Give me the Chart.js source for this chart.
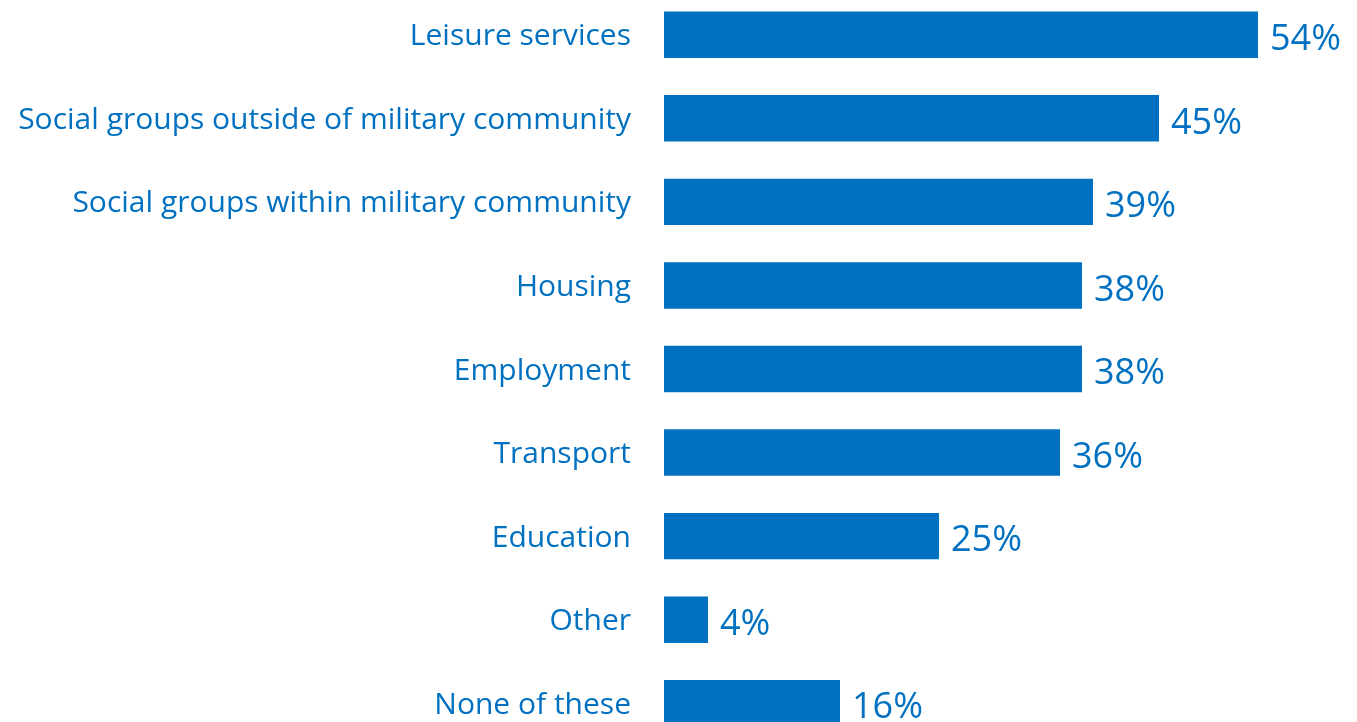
<!DOCTYPE html>
<html>
<head>
<meta charset="utf-8">
<script src="https://cdn.jsdelivr.net/npm/chart.js@4/dist/chart.umd.min.js"></script>
<style>
	html, body { margin: 0; padding: 0; overflow: hidden; background: #fff; }
	#chart { position: absolute; left: 0; top: -58px; }
</style>
</head>
<body>
<canvas id="chart" width="1357" height="854"></canvas>
<script>
const categories = [
	'Leisure services',
	'Social groups outside of military community',
	'Social groups within military community',
	'Housing',
	'Employment',
	'Transport',
	'Education',
	'Other',
	'None of these',
];
const percents = [54, 45, 39, 38, 38, 36, 25, 4, 16];
const blue = '#0070C0';

// draws "54%" etc. just past the end of each bar
const valueLabels = {
	id: 'valueLabels',
	afterDatasetsDraw(chart) {
		let ctx = chart.ctx;
		let meta = chart.getDatasetMeta(0);
		ctx.save();
		ctx.fillStyle = blue;
		ctx.font = '36px "Open Sans"';
		ctx.textAlign = 'left';
		ctx.textBaseline = 'middle';
		meta.data.forEach((bar, i) => {
			ctx.fillText(percents[i] + '%', bar.x + 12, bar.y + 5);
		});
		ctx.restore();
	},
};

let ctx = document.getElementById('chart').getContext('2d');
let chart = new Chart(ctx, {
	type: 'bar',
	data: {
		labels: categories,
		datasets: [{
			data: percents,
			backgroundColor: blue,
			categoryPercentage: 1,
			barPercentage: 0.556,
		}],
	},
	options: {
		responsive: false,
		indexAxis: 'y',
		animation: false,
		layout: { padding: { top: 0, bottom: 0, left: 0, right: 33 } },
		plugins: {
			legend: { display: false },
			tooltip: { enabled: false },
		},
		scales: {
			x: {
				display: false,
				min: 0,
				max: 60,
			},
			y: {
				grid: { display: false, drawTicks: false },
				border: { display: false },
				ticks: {
					color: blue,
					padding: 33,
					labelOffset: 2,
					font: { family: 'Open Sans', size: 30 },
				},
				afterFit: (scale) => { scale.width = 664; },
			},
		},
	},
	plugins: [valueLabels],
});
</script>
</body>
</html>
